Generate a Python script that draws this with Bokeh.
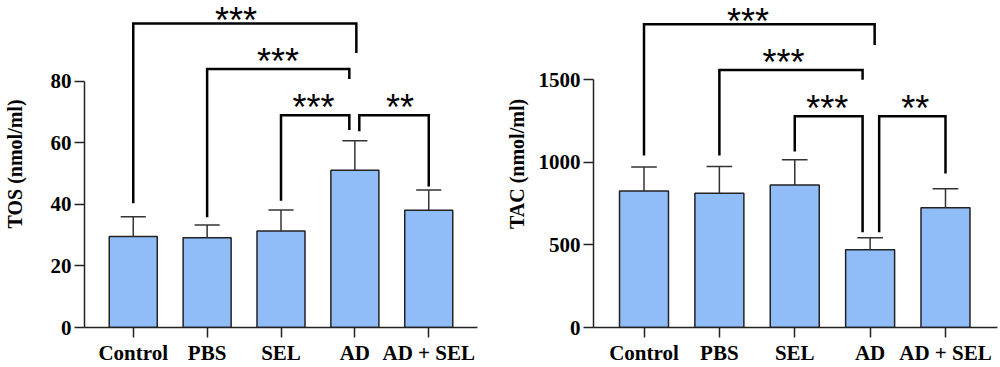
from bokeh.plotting import figure
from bokeh.layouts import row
from bokeh.models import Range1d, Label, FixedTicker
from bokeh.core.properties import value
from bokeh.embed import file_html
from bokeh.resources import INLINE

categories = ["Control", "PBS", "SEL", "AD", "AD + SEL"]
tos_mean = [29.6, 29.2, 31.4, 51.1, 38.1]
tos_err = [6.4, 4.1, 6.8, 9.6, 6.6]
tac_mean = [826, 812, 862, 471, 724]
tac_err = [146, 163, 153, 72, 116]

# significance brackets: left x, right x, top y, left leg bottom, right leg bottom
tos_br_x1 = [0, 1, 2, 3.06]
tos_br_x2 = [3.02, 2.925, 2.925, 4]
tos_br_top = [98.8, 84.0, 69.0, 69.0]
tos_br_b1 = [40.4, 35.8, 41.2, 63.8]
tos_br_b2 = [89.2, 80.8, 64.2, 45.8]
tos_star_x = [1.39, 1.96, 2.44, 3.61]
stars = ["***", "***", "***", "**"]

tac_br_x1 = [0, 1, 2, 3.12]
tac_br_x2 = [3.06, 2.9, 2.9, 4]
tac_br_top = [1835, 1558, 1279, 1279]
tac_br_b1 = [1041, 1041, 1065, 577]
tac_br_b2 = [1710, 1500, 577, 932]
tac_star_x = [1.38, 1.85, 2.43, 3.60]

BAR = "#90bcf8"
SERIF = "Liberation Serif"
STAR_SHIFT = [-3, -8, -8, -8]


def panel(mean, err, bx1, bx2, btop, bb1, bb2, sx, ylabel, tag, ymax_axis, ytop,
          yticks, width, left, right, xr, lab_std):
    p = figure(width=width, height=367, output_backend="svg", toolbar_location=None,
               x_range=Range1d(*xr), y_range=Range1d(0, ytop),
               min_border_left=left, min_border_right=right, min_border_top=0,
               min_border_bottom=0)
    p.outline_line_color = None
    p.xgrid.visible = False
    p.ygrid.visible = False
    xs = list(range(len(categories)))
    p.vbar(x=xs, top=mean, width=0.65, bottom=0, fill_color=BAR,
           line_color="#222222", line_width=1.5)
    tops = [m + e for m, e in zip(mean, err)]
    p.segment(x0=xs, y0=mean, x1=xs, y1=tops, line_color="#333333", line_width=1.5)
    p.segment(x0=[x - 0.17 for x in xs], y0=tops, x1=[x + 0.17 for x in xs], y1=tops,
              line_color="#333333", line_width=1.5)
    mx = [[a, a, b, b] for a, b in zip(bx1, bx2)]
    my = [[l, t, t, r] for l, t, r in zip(bb1, btop, bb2)]
    p.multi_line(xs=mx, ys=my, line_color="black", line_width=2.5, line_join="miter")
    p.text(x=sx, y=btop, text=stars, text_font=value("Liberation Sans"),
           text_font_size="36px", text_align="center", text_baseline="alphabetic",
           y_offset=STAR_SHIFT, text_color="black")

    xa = p.xaxis[0]
    xa.axis_label = None
    xa.ticker = FixedTicker(ticks=xs)
    xa.major_label_overrides = {i: c for i, c in enumerate(categories)}
    xa.minor_tick_line_color = None
    xa.major_tick_in = 0
    xa.major_tick_out = 10
    xa.axis_line_width = 1.5
    xa.major_tick_line_width = 1.5
    xa.axis_line_color = "#222222"
    xa.major_tick_line_color = "#222222"
    xa.major_label_text_font = SERIF
    xa.major_label_text_font_style = "bold"
    xa.major_label_text_font_size = "21px"
    xa.major_label_text_color = "black"
    xa.major_label_standoff = 3

    ya = p.yaxis[0]
    ya.ticker = FixedTicker(ticks=yticks)
    ya.bounds = (0, ymax_axis)
    ya.minor_tick_line_color = None
    ya.major_tick_in = 0
    ya.major_tick_out = 10
    ya.axis_line_width = 1.5
    ya.major_tick_line_width = 1.5
    ya.axis_line_color = "#222222"
    ya.major_tick_line_color = "#222222"
    ya.major_label_text_font = SERIF
    ya.major_label_text_font_style = "bold"
    ya.major_label_text_font_size = "21px"
    ya.major_label_text_color = "black"
    ya.major_label_standoff = 3
    ya.axis_label = ylabel
    ya.axis_label_text_font = SERIF
    ya.axis_label_text_font_style = "bold"
    ya.axis_label_text_font_size = "20px"
    ya.axis_label_text_color = "black"
    ya.axis_label_standoff = lab_std

    p.add_layout(Label(x=-left + 3, y=ytop, x_units="screen", y_units="data", text=tag,
                       text_font=SERIF, text_font_style="bold", text_font_size="27px",
                       text_baseline="top", text_color="black"))
    return p


pa = panel(tos_mean, tos_err, tos_br_x1, tos_br_x2, tos_br_top, tos_br_b1, tos_br_b2,
           tos_star_x, "TOS (nmol/ml)", "(a)", 80, 106.3, [0, 20, 40, 60, 80],
           500, 80, 23, (-0.66, 4.66), 22)
pb = panel(tac_mean, tac_err, tac_br_x1, tac_br_x2, tac_br_top, tac_br_b1, tac_br_b2,
           tac_star_x, "TAC (nmol/ml)", "(b)", 1500, 1979, [0, 500, 1000, 1500],
           500, 93, 3, (-0.67, 4.69), 8)

layout = row(pa, pb, spacing=0)
open("out.html", "w").write(file_html(layout, INLINE))
